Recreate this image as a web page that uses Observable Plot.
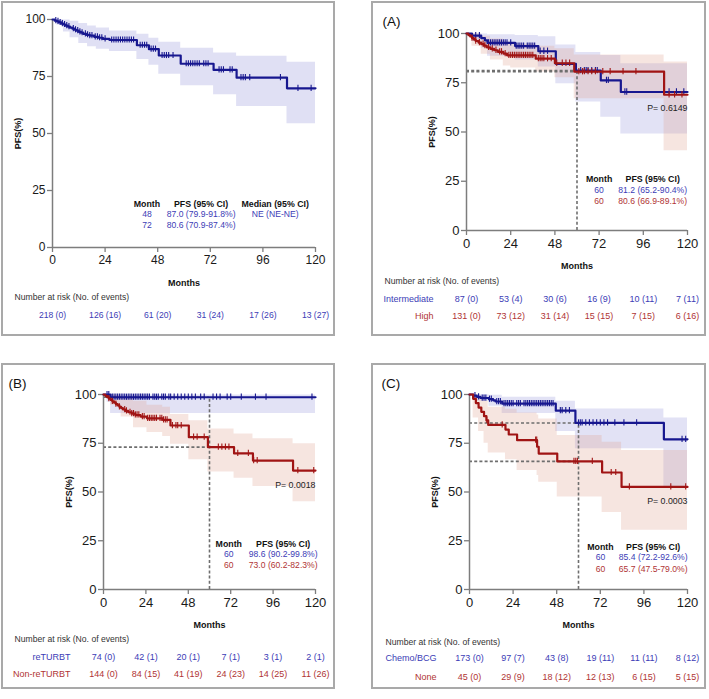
<!DOCTYPE html>
<html><head><meta charset="utf-8">
<script src="https://cdn.jsdelivr.net/npm/d3@7"></script>
<script src="https://cdn.jsdelivr.net/npm/@observablehq/plot@0.6"></script>
<style>
body{margin:0;background:#fff;}
#root{position:relative;width:709px;height:699px;font-family:"Liberation Sans",Arial,sans-serif;overflow:hidden;}
.frame{position:absolute;border:2px solid #a9a9a9;box-sizing:border-box;pointer-events:none;}
.panel{position:absolute;}
</style></head><body><div id="root"></div>
<script>
// ---------- shared ticks ----------
const monthTicks = [0, 24, 48, 72, 96, 120];
const pctTicks = [0, 25, 50, 75, 100];
const landmark = 60;

// ---------- Panel 1: all patients ----------
const allTime = [0,1,2,3,4,5,6,7,8,9,10,11,12,13,14,15.5,17,19,21,23,26,38.5,44,48.5,58.5,73.5,84,107,120];
const allSurv = [100,99.5,99.2,98.7,98.2,97.8,97.3,96.9,96.4,96.0,95.5,95.1,94.6,94.2,93.7,93.3,92.9,92.4,92.0,91.5,91.0,88.7,87.0,84.2,80.6,77.9,74.5,69.8,69.8];
const allBandTime = [0,2,5,8,12,16,20,26,38.5,44,48.5,58.5,73.5,84,107,120];
const allBandHi = [100,100,99.8,99.2,98.3,97.2,96.3,95.0,93.5,91.8,90.0,87.4,85.3,83.9,81.2,81.2];
const allBandLo = [100,97.5,94.5,92.0,89.5,88.0,87.0,86.0,82.5,79.9,76.0,70.9,67.0,61.8,54.3,54.3];
const allCens = [1.5,2.5,3.5,4.5,5.5,6.5,7.5,9.5,10.5,11.5,12.5,13.5,15,16,17,18,19.5,20.5,21.5,22.5,24,27,28,29,30,31,32,33,34,35,36,37,40,41,42,43,45,46,47,50,51,52,53,55,61,62,63,64,65,66,67,69,70,71,76,77,78,81,82,86,87,88,90,104,112,118];
const allRisk = ["218 (0)","126 (16)","61 (20)","31 (24)","17 (26)","13 (27)"];
const allStatMonth = ["48","72"];
const allStatPFS = ["87.0 (79.9-91.8%)","80.6 (70.9-87.4%)"];
const allStatMedian = ["NE (NE-NE)"];

// ---------- Panel A: risk group ----------
const aNames = ["Intermediate","High"];
const aTime1 = [0,3,8,10,11.4,26.4,39,48.5,59.4,72.9,83.8,120];
const aSurv1 = [100,98.9,97.7,96.5,95.2,93.6,91.0,84.6,81.2,76.2,70.3,70.3];
const aBandTime1 = [0,3,8,11.4,26.4,39,48.5,59.4,72.9,83.8,120];
const aBandHi1 = [100,100,99.8,99.4,99.0,98.3,94.2,90.4,88.8,84.7,84.7];
const aBandLo1 = [100,96.0,92.5,88.5,86.5,83.0,74.5,65.2,57.5,49.0,49.0];
const aCens1 = [5,7,12,13,14,15,16,17,18,19,20,21,22,24,27,28,29,30,31,33,34,35,36,37,40,42,44,62,64,65,66,68,70,71,76,77,86,87,110,114,118];
const aTime2 = [0,1,2,3,4,5,6.5,8,9.5,11,13,15,17,20,22,37.6,48,58.5,107.3,120];
const aSurv2 = [100,99.2,98.5,97.7,96.9,96.2,95.4,94.6,93.8,93.0,92.2,91.5,90.7,89.8,88.9,87.2,84.9,80.6,68.9,68.9];
const aBandTime2 = [0,3,8,13,20,24,37.6,48,58.5,107.3,120];
const aBandHi2 = [100,99.8,98.6,97.2,95.5,94.5,93.5,92.2,89.1,85.5,85.5];
const aBandLo2 = [100,93.5,89.5,86.5,83.5,82.5,80.5,77.5,66.9,40.5,40.5];
const aCens2 = [3,5,7,9,10,12,14,16,18,19,21,23,24,25,26,27,28,29,30,31,32,33,34,35,36,39,40,41,42,44,46,49,52,54,56,61,63,64,66,68,70,74,78,85,92,110,113,117];
const aRisk1 = ["87 (0)","53 (4)","30 (6)","16 (9)","10 (11)","7 (11)"];
const aRisk2 = ["131 (0)","73 (12)","31 (14)","15 (15)","7 (15)","6 (16)"];
const aLand = [81.2, 80.6];
const aStatPFS = ["81.2 (65.2-90.4%)","80.6 (66.9-89.1%)"];
const aP = "P= 0.6149";

// ---------- Panel B: reTURBT ----------
const bNames = ["reTURBT","Non-reTURBT"];
const bTime1 = [0,4,120];
const bSurv1 = [100,98.6,98.6];
const bBandTime1 = [0,2,4,120];
const bBandHi1 = [100,100,99.8,99.8];
const bBandLo1 = [100,96,90.2,90.2];
const bCens1 = [2,3,5,6,7,8,9,10,11,12,13,14,15,16,17,18,19,20,21,22,23,24,25,26,28,29,30,31,33,34,35,37,38,40,42,44,46,48,50,52,55,57,62,64,66,70,72,78,86,92,118];
const bTime2 = [0,1,2,3,4,5,6,7,8,9,10,11,12.5,14,16,18,21,24.6,33.5,37.9,48.3,59.1,73.9,84.6,107.3,120];
const bSurv2 = [100,99.3,98.6,97.9,97.2,96.5,95.8,95.1,94.4,93.7,93.0,92.3,91.6,90.9,90.2,89.5,88.7,87.8,87.0,84.1,78.1,73.0,69.8,66.1,61.0,61.0];
const bBandTime2 = [0,4,10,17,24.6,33.5,37.9,48.3,59.1,73.9,84.6,107.3,120];
const bBandHi2 = [100,99.5,98.0,96.5,94.5,93.5,89.8,86.5,82.3,79.8,77.3,74.7,74.7];
const bBandLo2 = [100,94.5,88.5,83.0,80.5,78.5,74.5,66.5,60.2,57.0,52.8,45.0,45.0];
const bCens2 = [3,5,7,9,12,13,15,16,17,18,19,20,22,23,25,26,27,28,29,30,32,33,34,35,36,39,41,42,44,51,53,57,65,67,69,71,76,82,85,87,110,119];
const bRisk1 = ["74 (0)","42 (1)","20 (1)","7 (1)","3 (1)","2 (1)"];
const bRisk2 = ["144 (0)","84 (15)","41 (19)","24 (23)","14 (25)","11 (26)"];
const bLand = [98.6, 73.0];
const bStatPFS = ["98.6 (90.2-99.8%)","73.0 (60.2-82.3%)"];
const bP = "P= 0.0018";

// ---------- Panel C: adjuvant therapy ----------
const cNames = ["Chemo/BCG","None"];
const cTime1 = [0,2,4,6,10.7,13,14.3,18,47.5,58.3,107,120];
const cSurv1 = [100,99.4,98.8,98.2,97.6,97.0,96.4,95.3,91.7,85.4,77.0,77.0];
const cBandTime1 = [0,4,10.7,18,47.5,58.3,107,120];
const cBandHi1 = [100,99.9,99.6,98.6,96.5,92.6,88.0,88.0];
const cBandLo1 = [100,96.5,94.0,90.2,81.0,72.2,52.0,52.0];
const cCens1 = [3,5,7,8,9,11,12,15,16,17,19,20,21,22,23,24,26,27,28,30,31,32,33,34,35,36,37,38,39,40,41,42,43,44,45,46,50,51,53,55,60,61,62,64,66,68,70,72,74,76,80,85,92,117,119];
const cTime2 = [0,2,3.5,5,6.5,8,9.3,10.3,19.8,21.6,26.2,37.2,38.1,48.3,73,83.7,120];
const cSurv2 = [100,97.8,95.6,93.3,91.1,88.9,86.7,84.4,82.0,79.5,76.6,73.2,69.7,65.7,60.0,52.6,52.6];
const cBandTime2 = [0,2,5,8,10.3,19.8,26.2,37.2,38.1,48.3,73,83.7,120];
const cBandHi2 = [100,99.8,98.8,96.5,93.5,92.5,90.5,89.5,87.5,79.0,75.5,71.3,71.3];
const cBandLo2 = [100,88.0,81.0,75.0,70.0,66.5,61.0,58.5,55.0,47.5,39.5,30.4,30.4];
const cCens2 = [9.5,18,36.4,37,57.5,58.5,59.4,67.6,78,80.5,88,110.8,119];
const cRisk1 = ["173 (0)","97 (7)","43 (8)","19 (11)","11 (11)","8 (12)"];
const cRisk2 = ["45 (0)","29 (9)","18 (12)","12 (13)","6 (15)","5 (15)"];
const cLand = [85.4, 65.7];
const cStatPFS = ["85.4 (72.2-92.6%)","65.7 (47.5-79.0%)"];
const cP = "P= 0.0003";

// ---------- styling ----------
const BLUE = "#17178f", RED = "#a01414";
const BLUE_T = "#3c3cb6", RED_T = "#b03434";
const BLUE_F = "#7c7cd2", RED_F = "#e0a090";
const AX = "#7d7d7d";
const FONT = "'Liberation Sans', Arial, Helvetica, sans-serif";

function survAt(t, s, x) {
  let v = s[0];
  for (let i = 0; i < t.length; i++) { if (t[i] <= x) v = s[i]; else break; }
  return v;
}
const pts = (t, s) => t.map((x, i) => ({t: x, s: s[i]}));
const bandPts = (t, lo, hi) => t.map((x, i) => ({t: x, lo: lo[i], hi: hi[i]}));

function makePanel(P) {
  const marks = [];
  P.groups.forEach(g => {
    marks.push(Plot.areaY(bandPts(g.bt, g.blo, g.bhi), {x: "t", y1: "lo", y2: "hi", curve: "step-after", fill: g.fill, fillOpacity: g.fo}));
  });
  if (P.land) {
    marks.push(Plot.ruleY(P.land, {x1: 0, x2: landmark, y: d => d, stroke: "#6e6e6e", strokeWidth: 1.6, strokeDasharray: "3,2.2"}));
    marks.push(Plot.ruleX([landmark], {y1: 0, y2: d3.max(P.land), stroke: "#6e6e6e", strokeWidth: 1.6, strokeDasharray: "3,2.2"}));
  }
  marks.push(Plot.ruleX([0], {y1: 0, y2: 100, stroke: AX, strokeWidth: 1.5}));
  marks.push(Plot.ruleY([0], {x1: 0, x2: 120, stroke: AX, strokeWidth: 1.5}));
  marks.push(Plot.axisY({ticks: pctTicks, tickSize: 5, tickPadding: 2, stroke: AX, strokeWidth: 1.3, fill: "#1a1a1a", fontSize: P.fs, label: null}));
  marks.push(Plot.axisX({ticks: monthTicks, tickSize: 5, tickPadding: 3, stroke: AX, strokeWidth: 1.3, fill: "#1a1a1a", fontSize: P.fs, label: null}));
  P.groups.forEach(g => {
    marks.push(Plot.line(pts(g.t, g.s), {x: "t", y: "s", curve: "step-after", stroke: g.line, strokeWidth: 2.2}));
    marks.push(Plot.ruleX(g.cens, {x: d => d, y1: d => survAt(g.t, g.s, d) - P.tk, y2: d => survAt(g.t, g.s, d) + P.tk, stroke: g.line, strokeWidth: 1.1}));
  });
  // axis titles
  marks.push(Plot.text(["PFS(%)"], {x: 0, y: 50, dx: -34, rotate: -90, fontWeight: "bold", fontSize: 9, fill: "#111"}));
  marks.push(Plot.text(["Months"], {x: 60, y: 0, dy: 36, fontWeight: "bold", fontSize: 9, fill: "#111"}));
  // at-risk table
  marks.push(Plot.text(["Number at risk (No. of events)"], {x: 0, y: 0, dx: P.riskDx, dy: P.riskHead, textAnchor: "start", fontSize: 8.6, fill: "#333"}));
  P.groups.forEach((g, gi) => {
    marks.push(Plot.text(g.risk, {x: (d, i) => monthTicks[i], y: 0, dy: P.riskRows[gi], fontSize: P.tfs, fill: g.text}));
    if (g.name) marks.push(Plot.text([g.name], {x: 0, y: 0, dx: -33, dy: P.riskRows[gi], textAnchor: "end", fontSize: P.tfs, fill: g.text}));
  });
  // stats table
  const S = P.stat;
  marks.push(Plot.text(["Month"], {x: S.c1, y: S.y[0], fontWeight: "bold", fontSize: 8.8, fill: "#111"}));
  marks.push(Plot.text(["PFS (95% CI)"], {x: S.c2, y: S.y[0], fontWeight: "bold", fontSize: 8.8, fill: "#111"}));
  if (S.median) marks.push(Plot.text(["Median (95% CI)"], {x: S.c3, y: S.y[0], fontWeight: "bold", fontSize: 8.8, fill: "#111"}));
  S.month.forEach((m, i) => {
    const col = S.colors[i];
    marks.push(Plot.text([m], {x: S.c1, y: S.y[i + 1], fontSize: 8.6, fill: col}));
    marks.push(Plot.text([S.pfs[i]], {x: S.c2, y: S.y[i + 1], fontSize: 8.6, fill: col}));
  });
  if (S.median) S.median.forEach((m, i) => marks.push(Plot.text([m], {x: S.c3, y: S.y[i + 1], fontSize: 8.6, fill: S.colors[i]})));
  if (P.p) marks.push(Plot.text([P.p.text], {x: 120, y: P.p.y, textAnchor: "end", fontSize: 8.8, fill: "#222"}));
  if (P.label) marks.push(Plot.text([P.label], {frameAnchor: "top-left", lineAnchor: "middle", dx: P.labelDx, dy: P.labelDy, textAnchor: "start", fontSize: 13.5, fill: "#111"}));

  const svg = Plot.plot({
    width: P.w, height: P.h,
    marginLeft: P.m[0], marginRight: P.m[1], marginTop: P.m[2], marginBottom: P.m[3],
    x: {domain: [0, 120]}, y: {domain: [0, 100]},
    style: {fontFamily: FONT, fontSize: P.fs + "px", background: "transparent", overflow: "visible"},
    marks
  });
  const wrap = document.createElement("div");
  wrap.className = "panel";
  wrap.style.left = P.x + "px"; wrap.style.top = P.y + "px";
  wrap.appendChild(svg);
  const fr = document.createElement("div");
  fr.className = "frame";
  Object.assign(fr.style, {left: P.x + "px", top: P.y + "px", width: P.w + "px", height: P.h + "px"});
  const root = document.getElementById("root");
  root.appendChild(wrap);
  root.appendChild(fr);
}

makePanel({
  x: 1, y: 1, w: 334, h: 335, m: [51, 20, 18, 89], fs: 12, tfs: 8.6, tk: 1.35,
  riskDx: -38, riskHead: 50, riskRows: [68],
  groups: [{t: allTime, s: allSurv, bt: allBandTime, blo: allBandLo, bhi: allBandHi, cens: allCens,
            line: BLUE, text: BLUE_T, fill: BLUE_F, fo: 0.24, risk: allRisk, name: null}],
  stat: {c1: 43.1, c2: 67.8, c3: 101.6, y: [19.1, 14.7, 9.7], month: allStatMonth, pfs: allStatPFS, median: allStatMedian, colors: [BLUE_T, BLUE_T]}
});
makePanel({
  x: 371, y: 1, w: 335, h: 335, m: [95, 19, 32, 106], fs: 13, tfs: 9, tk: 1.6,
  riskDx: -82, riskHead: 51, riskRows: [69, 86], label: "(A)", labelDx: -84, labelDy: -12,
  groups: [
    {name: aNames[0], t: aTime1, s: aSurv1, bt: aBandTime1, blo: aBandLo1, bhi: aBandHi1, cens: aCens1, line: BLUE, text: BLUE_T, fill: BLUE_F, fo: 0.22, risk: aRisk1},
    {name: aNames[1], t: aTime2, s: aSurv2, bt: aBandTime2, blo: aBandLo2, bhi: aBandHi2, cens: aCens2, line: RED, text: RED_T, fill: RED_F, fo: 0.28, risk: aRisk2}],
  land: aLand, p: {text: aP, y: 61.9},
  stat: {c1: 72, c2: 101.1, y: [25.9, 20.3, 14.8], month: ["60","60"], pfs: aStatPFS, colors: [BLUE_T, RED_T]}
});
makePanel({
  x: 1, y: 363, w: 334, h: 326, m: [102, 20, 31, 100], fs: 13, tfs: 9, tk: 1.6,
  riskDx: -89, riskHead: 50, riskRows: [68, 85], label: "(B)", labelDx: -95, labelDy: -11,
  groups: [
    {name: bNames[0], t: bTime1, s: bSurv1, bt: bBandTime1, blo: bBandLo1, bhi: bBandHi1, cens: bCens1, line: BLUE, text: BLUE_T, fill: BLUE_F, fo: 0.22, risk: bRisk1},
    {name: bNames[1], t: bTime2, s: bSurv2, bt: bBandTime2, blo: bBandLo2, bhi: bBandHi2, cens: bCens2, line: RED, text: RED_T, fill: RED_F, fo: 0.28, risk: bRisk2}],
  land: bLand, p: {text: bP, y: 53.7},
  stat: {c1: 70.9, c2: 101.7, y: [23.4, 18.3, 12.2], month: ["60","60"], pfs: bStatPFS, colors: [BLUE_T, RED_T]}
});
makePanel({
  x: 371, y: 363, w: 335, h: 326, m: [98, 19, 31, 100], fs: 13, tfs: 9, tk: 1.6,
  riskDx: -84, riskHead: 53, riskRows: [69, 88], label: "(C)", labelDx: -88, labelDy: -11,
  groups: [
    {name: cNames[0], t: cTime1, s: cSurv1, bt: cBandTime1, blo: cBandLo1, bhi: cBandHi1, cens: cCens1, line: BLUE, text: BLUE_T, fill: BLUE_F, fo: 0.22, risk: cRisk1},
    {name: cNames[1], t: cTime2, s: cSurv2, bt: cBandTime2, blo: cBandLo2, bhi: cBandHi2, cens: cCens2, line: RED, text: RED_T, fill: RED_F, fo: 0.28, risk: cRisk2}],
  land: cLand, p: {text: cP, y: 45.1},
  stat: {c1: 72.1, c2: 101.1, y: [21.7, 16.3, 10.4], month: ["60","60"], pfs: cStatPFS, colors: [BLUE_T, RED_T]}
});
</script></body></html>
